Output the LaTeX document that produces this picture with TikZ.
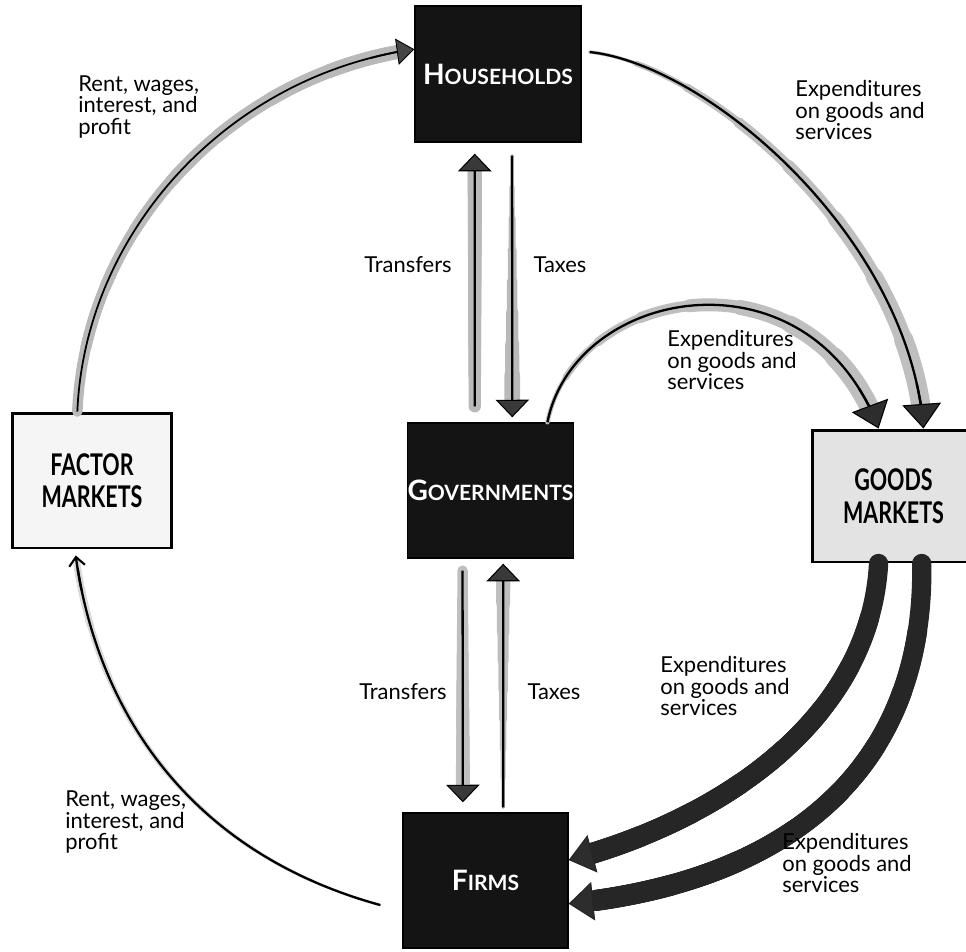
\documentclass[tikz,border=0pt]{standalone}
\usepackage{fontspec}
\setmainfont{Lato}
\usepackage{graphicx}
\usetikzlibrary{arrows.meta,calc}
\tikzset{
  blackbox/.style={rectangle, fill=black!92, draw=black, line width=0.8pt, text=white, font=\bfseries, inner sep=0pt},
  mktbox/.style={rectangle, draw=black, line width=1.7pt, font=\bfseries\fontsize{17}{18.5}\selectfont, inner sep=0pt, align=center},
  lbl/.style={align=left, anchor=west, font=\fontsize{12.5}{12.5}\selectfont, inner sep=0pt},
  clbl/.style={anchor=center, font=\fontsize{12.5}{12.5}\selectfont, inner sep=0pt},
  core/.style={draw=black, line width=1.3pt},
  bighead/.style={-{Triangle[width=22pt,length=14pt,fill=gray!35!black,line width=0.6pt]}},
  midhead/.style={-{Triangle[width=19pt,length=10pt,fill=gray!45!black,line width=0.6pt]}},
  smallhead/.style={-{Triangle[width=15pt,length=10pt,fill=gray!55!black,line width=0.5pt]}},
  thinhead/.style={-{Straight Barb[width=9pt,length=5pt,line width=1.2pt]}},
}
\newcommand{\capsc}[2]{{\fontsize{16}{16}\selectfont #1}{\fontsize{12}{12}\selectfont #2}}
% segment of the cubic (#3,#4,#5,#6) between parameters #1 and #2, drawn with options #7
\newcommand{\segcurve}[7]{%
  \coordinate (sq1) at ($(#3)!#2!(#4)$);
  \coordinate (sm12) at ($(#4)!#2!(#5)$);
  \coordinate (sm23) at ($(#5)!#2!(#6)$);
  \coordinate (sq2) at ($(sq1)!#2!(sm12)$);
  \coordinate (smb) at ($(sm12)!#2!(sm23)$);
  \coordinate (sq3) at ($(sq2)!#2!(smb)$);
  \pgfmathsetmacro\segs{#1/#2}
  \coordinate (sr01) at ($(#3)!\segs!(sq1)$);
  \coordinate (sr12) at ($(sq1)!\segs!(sq2)$);
  \coordinate (sr23) at ($(sq2)!\segs!(sq3)$);
  \coordinate (sra) at ($(sr01)!\segs!(sr12)$);
  \coordinate (srb) at ($(sr12)!\segs!(sr23)$);
  \coordinate (srm) at ($(sra)!\segs!(srb)$);
  \draw[#7] (srm) .. controls (srb) and (sr23) .. (sq3);
}
% tapering band along the cubic #1..#4, colour #5, width #6 -> #7 (pt), ending at parameter #8
\newcommand{\band}[8]{%
  \foreach \bk in {0,...,7}{%
    \pgfmathsetmacro\bandt{0.12*\bk}
    \pgfmathsetmacro\bandw{#6+(#7-#6)*\bk/7}
    \segcurve{\bandt}{#8}{#1}{#2}{#3}{#4}{draw=#5, line width=\bandw pt, line cap=round}
  }%
}
% connector line along the cubic #1..#4 with options #5 and arrow head style #6
\newcommand{\flowline}[6]{%
  \segcurve{0}{0.97}{#1}{#2}{#3}{#4}{#5}
  \segcurve{0.92}{1}{#1}{#2}{#3}{#4}{#5,#6}
}
\begin{document}
\begin{tikzpicture}[x=0.02cm,y=-0.02cm]
\useasboundingbox (0,0) rectangle (966,951);
\clip (0,0) rectangle (966,951);
\fill[white] (0,0) rectangle (966,951);

% nodes
\node[blackbox, minimum width=3.32cm, minimum height=2.72cm] (hh) at (498,74) {\capsc{H}{OUSEHOLDS}};
\node[blackbox, minimum width=3.30cm, minimum height=2.70cm] (gov) at (490.5,490.5) {\capsc{G}{OVERNMENTS}};
\node[blackbox, minimum width=3.30cm, minimum height=2.70cm] (firms) at (485.5,880.5) {\capsc{F}{IRMS}};
\node[mktbox, fill=gray!8, minimum width=3.2cm, minimum height=2.7cm] (fm) at (92,480.5)
  {\scalebox{0.72}[1]{FACTOR}\\\scalebox{0.72}[1]{MARKETS}};
\node[mktbox, fill=gray!22, minimum width=3.26cm, minimum height=2.64cm] (gm) at (893.5,496)
  {\scalebox{0.72}[1]{GOODS}\\\scalebox{0.72}[1]{MARKETS}};

% A: factor markets -> households
\coordinate (a0) at ($(fm.north west)!0.41!(fm.north east)$);
\coordinate (a1) at (85,230);
\coordinate (a2) at (230,75);
\coordinate (a3) at ($(hh.north west)!0.32!(hh.south west)$);
\band{a0}{a1}{a2}{a3}{gray!55}{6}{8}{0.975}
\flowline{a0}{a1}{a2}{a3}{core, line width=1pt}{smallhead}

% B: households -> goods markets
\coordinate (b0) at ($(hh.north east)!0.34!(hh.south east)+(8,0)$);
\coordinate (b1) at (710,65);
\coordinate (b2) at (910,240);
\coordinate (b3) at ($(gm.north west)!0.68!(gm.north east)$);
\band{b0}{b1}{b2}{b3}{gray!50}{2}{11}{0.97}
\flowline{b0}{b1}{b2}{b3}{core}{bighead}

% C: governments -> goods markets
\coordinate (c0) at ($(gov.north west)!0.84!(gov.north east)$);
\coordinate (c1) at (575,285);
\coordinate (c2) at (810,245);
\coordinate (c3) at ($(gm.north west)!0.41!(gm.north east)$);
\band{c0}{c1}{c2}{c3}{gray!50}{2.5}{11}{0.97}
\flowline{c0}{c1}{c2}{c3}{core}{bighead}

% D: goods markets -> firms (inner)
\coordinate (d0) at ($(gm.south west)!0.41!(gm.south east)$);
\coordinate (d1) at (870,720);
\coordinate (d2) at (720,820);
\coordinate (d3) at ($(firms.north east)!0.35!(firms.south east)$);
\band{d0}{d1}{d2}{d3}{gray!30!black}{11}{12}{0.96}
\segcurve{0.92}{1}{d0}{d1}{d2}{d3}{draw=gray!30!black, line width=1pt, bighead}

% E: goods markets -> firms (outer)
\coordinate (e0) at ($(gm.south west)!0.67!(gm.south east)$);
\coordinate (e1) at (925,760);
\coordinate (e2) at (800,880);
\coordinate (e3) at ($(firms.north east)!0.67!(firms.south east)$);
\band{e0}{e1}{e2}{e3}{gray!30!black}{11}{12}{0.96}
\segcurve{0.92}{1}{e0}{e1}{e2}{e3}{draw=gray!30!black, line width=1pt, bighead}

% F: firms -> factor markets
\coordinate (f0) at ($(firms.north west)!0.68!(firms.south west)+(-22,0)$);
\coordinate (f1) at (180,850);
\coordinate (f2) at (95,700);
\coordinate (f3) at ($(fm.south west)!0.4!(fm.south east)+(0,6)$);
\band{f0}{f1}{f2}{f3}{gray!30}{1.5}{4}{0.98}
\flowline{f0}{f1}{f2}{f3}{core}{thinhead}

% G: governments -> households (Transfers)
\coordinate (g0) at ($(gov.north west)!0.406!(gov.north east)+(0,-16)$);
\coordinate (g3) at ($(hh.south west)!0.361!(hh.south east)+(0,11)$);
\coordinate (g1) at ($(g0)!0.333!(g3)$);
\coordinate (g2) at ($(g0)!0.667!(g3)$);
\band{g0}{g1}{g2}{g3}{gray!55}{7}{8}{0.95}
\draw[core, midhead] (g0) -- (g3);

% H: households -> governments (Taxes)
\coordinate (h0) at ($(hh.south west)!0.584!(hh.south east)+(0,13)$);
\coordinate (h3) at ($(gov.north west)!0.63!(gov.north east)+(0,-5)$);
\coordinate (h1) at ($(h0)!0.333!(h3)$);
\coordinate (h2) at ($(h0)!0.667!(h3)$);
\band{h0}{h1}{h2}{h3}{gray!55}{2}{9}{0.95}
\draw[core, midhead] (h0) -- (h3);

% I: governments -> firms (Transfers)
\coordinate (i0) at ($(gov.south west)!0.333!(gov.south east)+(0,12)$);
\coordinate (i3) at ($(firms.north west)!0.364!(firms.north east)+(0,-10)$);
\coordinate (i1) at ($(i0)!0.333!(i3)$);
\coordinate (i2) at ($(i0)!0.667!(i3)$);
\band{i0}{i1}{i2}{i3}{gray!50}{6}{8}{0.95}
\draw[core, midhead] (i0) -- (i3);

% J: firms -> governments (Taxes)
\coordinate (j0) at ($(firms.north west)!0.606!(firms.north east)+(0,-5)$);
\coordinate (j3) at ($(gov.south west)!0.576!(gov.south east)+(0,5)$);
\coordinate (j1) at ($(j0)!0.333!(j3)$);
\coordinate (j2) at ($(j0)!0.667!(j3)$);
\band{j0}{j1}{j2}{j3}{gray!50}{2}{8}{0.95}
\draw[core, midhead] (j0) -- (j3);

% labels
\node[lbl] (l1) at (78,107) {Rent, wages,\\interest, and\\profit};
\node[lbl] (l2) at (65,822) {Rent, wages,\\interest, and\\profit};
\node[lbl] (l3) at (795,110) {Expenditures\\on goods and\\services};
\node[lbl] (l4) at (667,360) {Expenditures\\on goods and\\services};
\node[lbl] (l5) at (660,686) {Expenditures\\on goods and\\services};
\node[lbl] (l6) at (782,863) {Expenditures\\on goods and\\services};
\node[clbl] (t1) at (408,265) {Transfers};
\node[clbl] (t2) at (560,265) {Taxes};
\node[clbl] (t3) at (403,692) {Transfers};
\node[clbl] (t4) at (554,692) {Taxes};
\end{tikzpicture}
\end{document}
